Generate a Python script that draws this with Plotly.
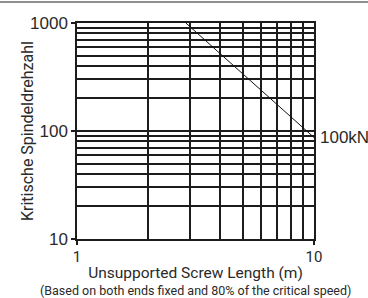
import math
import plotly.graph_objects as go

# Data
length_m = [2.88, 10]          # unsupported screw length (m)
speed_100kN = [1000, 87]       # critical speed for 100kN line
line_label = "100kN"
x_title = "Unsupported Screw Length (m)"
x_note = "(Based on both ends fixed and 80% of the critical speed)"
y_title = "Kritische Spindeldrehzahl"

W, H = 368, 298
pl, pr, pt, pb = 77, 314, 23, 239   # plot area in page pixels

grid_col = "#1c1c1c"
narrow = "Liberation Sans Narrow, Liberation Sans, Arial"
din = "Roboto, DejaVu Sans, sans-serif"
txt_col = "#2a2a2a"

fig = go.Figure()
fig.add_trace(go.Scatter(x=length_m, y=speed_100kN, mode="lines",
                         line=dict(color="#111111", width=1), showlegend=False,
                         hoverinfo="skip"))

fig.add_annotation(x=math.log10(length_m[-1]), y=math.log10(speed_100kN[-1]),
                   xref="x", yref="y",
                   text=line_label, showarrow=False, xanchor="left",
                   yanchor="middle", xshift=4,
                   font=dict(family=narrow, size=17, color=txt_col))
fig.add_annotation(x=0.5, y=0, xref="x domain", yref="y domain", yshift=-51,
                   text=x_note, showarrow=False, xanchor="center", yanchor="middle",
                   font=dict(family=din, size=12.5, color=txt_col))
fig.add_annotation(x=0, y=0.5, xref="x domain", yref="y domain", xshift=-50,
                   text=y_title, showarrow=False, textangle=-90,
                   xanchor="center", yanchor="middle",
                   font=dict(family=din, size=16, color=txt_col))

# gray header rule at the very top of the page (inside the paper area)
fig.add_shape(type="line", xref="paper", yref="paper", layer="above",
              x0=0, x1=1, y0=1 - 2 / H, y1=1 - 2 / H,
              line=dict(color="#8f8f8f", width=2))

axis_common = dict(
    showline=True, linecolor=grid_col, linewidth=1.5, mirror=True,
    showgrid=True, gridcolor=grid_col, gridwidth=1.5,
    ticks="outside", ticklen=4, tickwidth=1.5, tickcolor=grid_col,
    dtick=1, automargin=False,
    minor=dict(showgrid=True, gridcolor=grid_col, gridwidth=1.5,
               dtick="D1", ticks=""),
)

fig.update_xaxes(type="log", range=[0, 1], **axis_common,
                 domain=[pl / W, pr / W],
                 ticklabelstandoff=-1,
                 tickfont=dict(family=din, size=15, color=txt_col),
                 title=dict(text=x_title, standoff=2,
                            font=dict(family=din, size=15.5, color=txt_col)))
fig.update_yaxes(type="log", range=[1, 3], **axis_common,
                 domain=[1 - pb / H, 1 - pt / H],
                 tickfont=dict(family=narrow, size=17, color=txt_col))

fig.update_layout(width=W, height=H, margin=dict(l=0, r=0, t=0, b=0),
                  plot_bgcolor="white", paper_bgcolor="white")

fig.write_html("out.html", config={"displayModeBar": False},
               post_script="document.body.style.margin='0px';"
                           "document.body.style.overflow='hidden';")
